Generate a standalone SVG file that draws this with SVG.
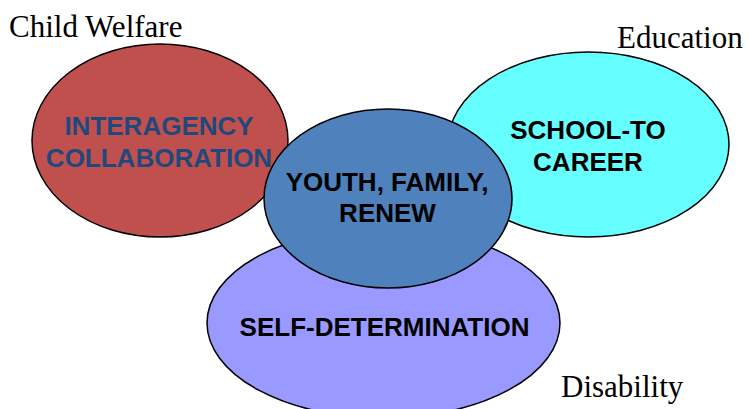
<svg xmlns="http://www.w3.org/2000/svg" width="749" height="409" viewBox="0 0 749 409">
<style>
.e{stroke:#000;stroke-width:1.5}
.b{font-family:"Liberation Sans",Arial,sans-serif;font-weight:bold;font-size:26px;text-anchor:middle}
.l{font-family:"Liberation Serif","Times New Roman",serif;font-size:31px}
</style>
<rect width="749" height="409" fill="#fff"/>
<g id="connectors"></g>
<g id="child-welfare">
<ellipse class="e" cx="160" cy="140.5" rx="128" ry="96.5" fill="#C0504D"/>
<text class="b" x="159" y="135" fill="#1F497D">INTERAGENCY</text>
<text class="b" x="159" y="167" fill="#1F497D">COLLABORATION</text>
</g>
<g id="education">
<ellipse class="e" cx="588.5" cy="144.5" rx="140.5" ry="92.5" fill="#66FFFF"/>
<text class="b" x="588" y="139" fill="#000">SCHOOL-TO</text>
<text class="b" x="588" y="171" fill="#000">CAREER</text>
</g>
<g id="disability">
<ellipse class="e" cx="383.5" cy="323" rx="176.5" ry="95" fill="#9999FF"/>
<text class="b" x="384.5" y="336" fill="#000">SELF-DETERMINATION</text>
</g>
<g id="youth">
<ellipse class="e" cx="388" cy="198.5" rx="124" ry="89.5" fill="#4F81BD"/>
<text class="b" x="387" y="191" fill="#000">YOUTH, FAMILY,</text>
<text class="b" x="387.5" y="222" fill="#000">RENEW</text>
</g>
<g id="labels">
<text class="l" x="9" y="37">Child Welfare</text>
<text class="l" x="617" y="48">Education</text>
<text class="l" x="561" y="397">Disability</text>
</g>
</svg>
